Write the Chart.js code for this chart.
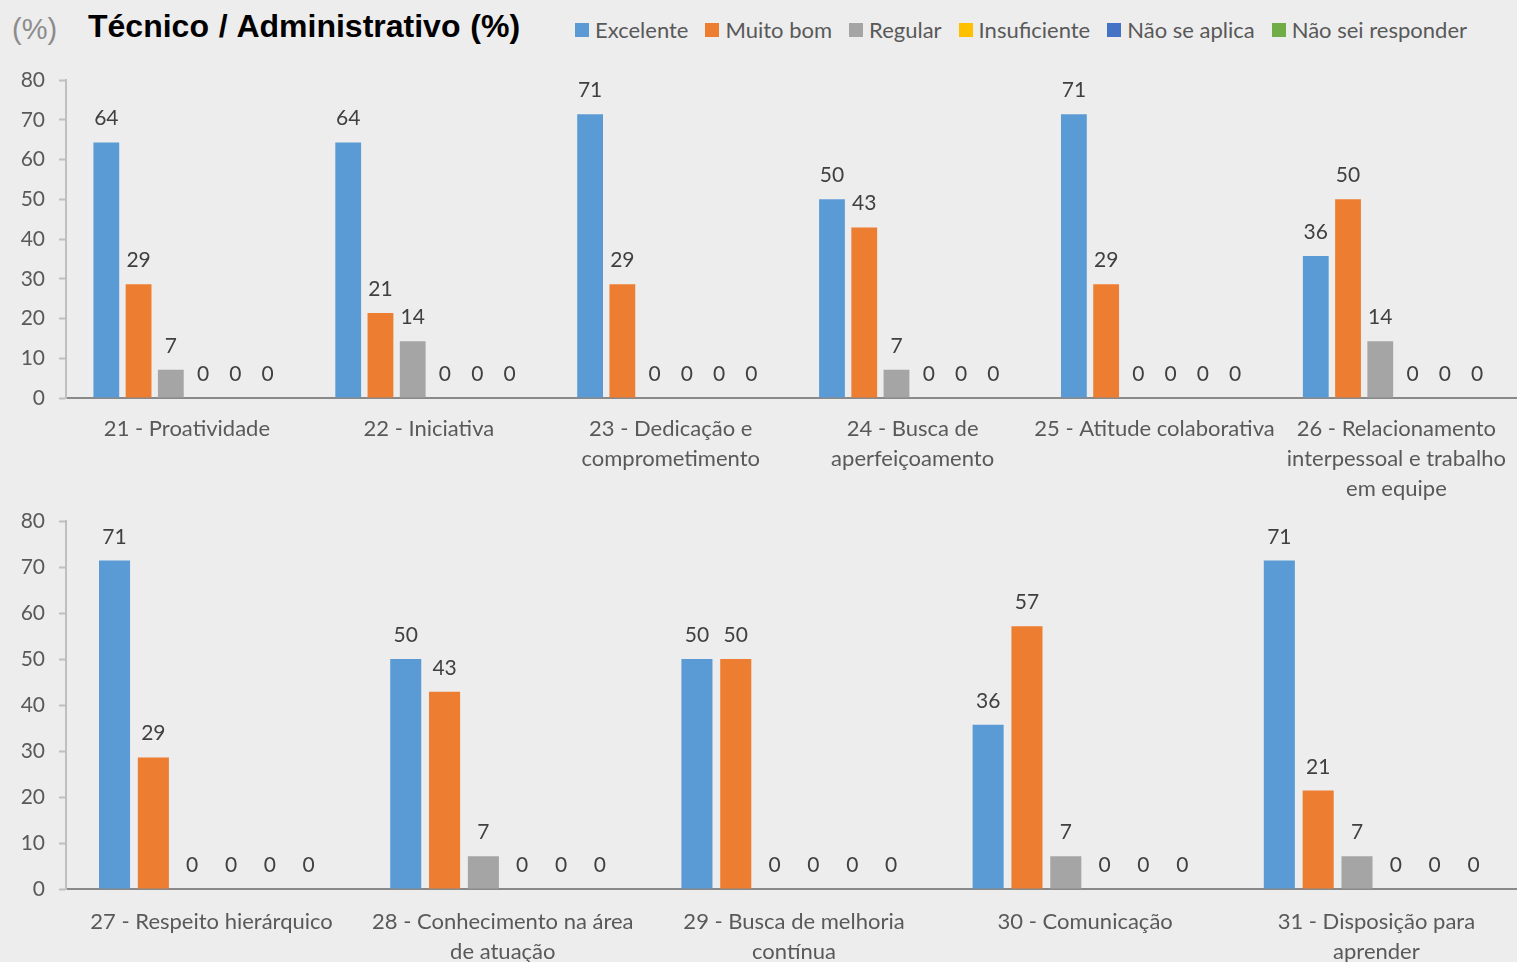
<!DOCTYPE html>
<html>
<head>
<meta charset="utf-8">
<script src="https://cdn.jsdelivr.net/npm/chart.js@4"></script>
<style>
  html, body { margin: 0; padding: 0; background: #EDEDED; overflow: hidden; }
  #wrap { position: relative; width: 1517px; height: 962px; background: #EDEDED; overflow: hidden; }
  #pct { position: absolute; left: 12px; top: 15px; font: 29px/29px "Liberation Sans", Arial, sans-serif; color: #8C8C8C; }
  #title { position: absolute; left: 88px; top: 10px; font: bold 32px/32px "Liberation Sans", Arial, sans-serif; color: #000; white-space: nowrap; word-spacing: 1px; }
  #legend { position: absolute; left: 575px; top: 18px; display: flex; gap: 17px; font: 22px/24px Lato, sans-serif; color: #595959; white-space: nowrap; }
  #legend .it { display: flex; align-items: center; }
  #legend .sw { width: 14px; height: 14px; margin-right: 6px; }
  canvas { position: absolute; left: 0; }
</style>
</head>
<body>
<div id="wrap">
  <div id="pct">(%)</div>
  <div id="title">Técnico / Administrativo (%)</div>
  <div id="legend"></div>
  <canvas id="c1" width="1522" height="500" style="top:0px"></canvas>
  <canvas id="c2" width="1522" height="482" style="top:480px"></canvas>
</div>
<script>
// ---- Data ----
const seriesNames = ["Excelente", "Muito bom", "Regular", "Insuficiente", "Não se aplica", "Não sei responder"];
const seriesColors = ["#5B9BD5", "#ED7D31", "#A5A5A5", "#FFC000", "#4472C4", "#70AD47"];

const topCategories = [
  "21 - Proatividade",
  "22 - Iniciativa",
  ["23 - Dedicação e", "comprometimento"],
  ["24 - Busca de", "aperfeiçoamento"],
  "25 - Atitude colaborativa",
  ["26 - Relacionamento", "interpessoal e trabalho", "em equipe"]
];
const topExcelente    = [64.3, 64.3, 71.4, 50.0, 71.4, 35.7];
const topMuitoBom     = [28.6, 21.4, 28.6, 42.9, 28.6, 50.0];
const topRegular      = [7.1, 14.3, 0, 7.1, 0, 14.3];
const topInsuficiente = [0, 0, 0, 0, 0, 0];
const topNaoAplica    = [0, 0, 0, 0, 0, 0];
const topNaoSei       = [0, 0, 0, 0, 0, 0];

const botCategories = [
  "27 - Respeito hierárquico",
  ["28 - Conhecimento na área", "de atuação"],
  ["29 - Busca de melhoria", "contínua"],
  "30 - Comunicação",
  ["31 - Disposição para", "aprender"]
];
const botExcelente    = [71.4, 50.0, 50.0, 35.7, 71.4];
const botMuitoBom     = [28.6, 42.9, 50.0, 57.1, 21.4];
const botRegular      = [0, 7.1, 0, 7.1, 7.1];
const botInsuficiente = [0, 0, 0, 0, 0];
const botNaoAplica    = [0, 0, 0, 0, 0];
const botNaoSei       = [0, 0, 0, 0, 0];

const yTicks = { min: 0, max: 80, step: 10 };

// ---- Legend (HTML) ----
const lg = document.getElementById('legend');
seriesNames.forEach((n, i) => {
  const it = document.createElement('div'); it.className = 'it';
  const sw = document.createElement('span'); sw.className = 'sw'; sw.style.background = seriesColors[i];
  const tx = document.createElement('span'); tx.textContent = n;
  it.appendChild(sw); it.appendChild(tx); lg.appendChild(it);
});

// ---- Value labels plugin ----
const valueLabels = {
  id: 'valueLabels',
  afterDatasetsDraw(chart) {
    const ctx = chart.ctx;
    ctx.save();
    ctx.font = '21px Lato, sans-serif';
    ctx.fillStyle = '#404040';
    ctx.textAlign = 'center';
    ctx.textBaseline = 'alphabetic';
    chart.data.datasets.forEach((ds, di) => {
      const meta = chart.getDatasetMeta(di);
      meta.data.forEach((el, i) => {
        ctx.fillText(String(Math.round(ds.data[i])), el.x, el.y - 17);
      });
    });
    ctx.restore();
  }
};

function makeChart(id, cats, arrays, padTop, xHeight, xPad) {
  return new Chart(document.getElementById(id), {
    type: 'bar',
    data: {
      labels: cats,
      datasets: arrays.map((a, i) => ({
        label: seriesNames[i], data: a, backgroundColor: seriesColors[i],
        barPercentage: 0.8, categoryPercentage: 0.8
      }))
    },
    options: {
      responsive: false,
      animation: false,
      events: [],
      layout: { padding: { top: padTop, left: 0, right: 0, bottom: 0 } },
      plugins: { legend: { display: false }, title: { display: false }, tooltip: { enabled: false } },
      scales: {
        x: {
          grid: { display: false, drawTicks: false },
          border: { display: true, color: '#898989', width: 2 },
          ticks: { color: '#595959', font: { family: 'Lato', size: 22, lineHeight: 1.364 }, padding: xPad, autoSkip: false, maxRotation: 0, minRotation: 0 },
          afterFit(s) { s.height = xHeight; }
        },
        y: {
          min: yTicks.min, max: yTicks.max,
          grid: { drawOnChartArea: false, drawTicks: true, tickLength: 7, color: '#BFBFBF', tickWidth: 2 },
          border: { display: true, color: '#BFBFBF', width: 2 },
          ticks: { stepSize: yTicks.step, color: '#595959', font: { family: 'Lato', size: 21 }, padding: 14 },
          afterFit(s) { s.width = 66; }
        }
      }
    },
    plugins: [valueLabels]
  });
}

makeChart('c1', topCategories, [topExcelente, topMuitoBom, topRegular, topInsuficiente, topNaoAplica, topNaoSei], 80, 102, 16);
makeChart('c2', botCategories, [botExcelente, botMuitoBom, botRegular, botInsuficiente, botNaoAplica, botNaoSei], 41, 73, 18);
</script>
</body>
</html>
